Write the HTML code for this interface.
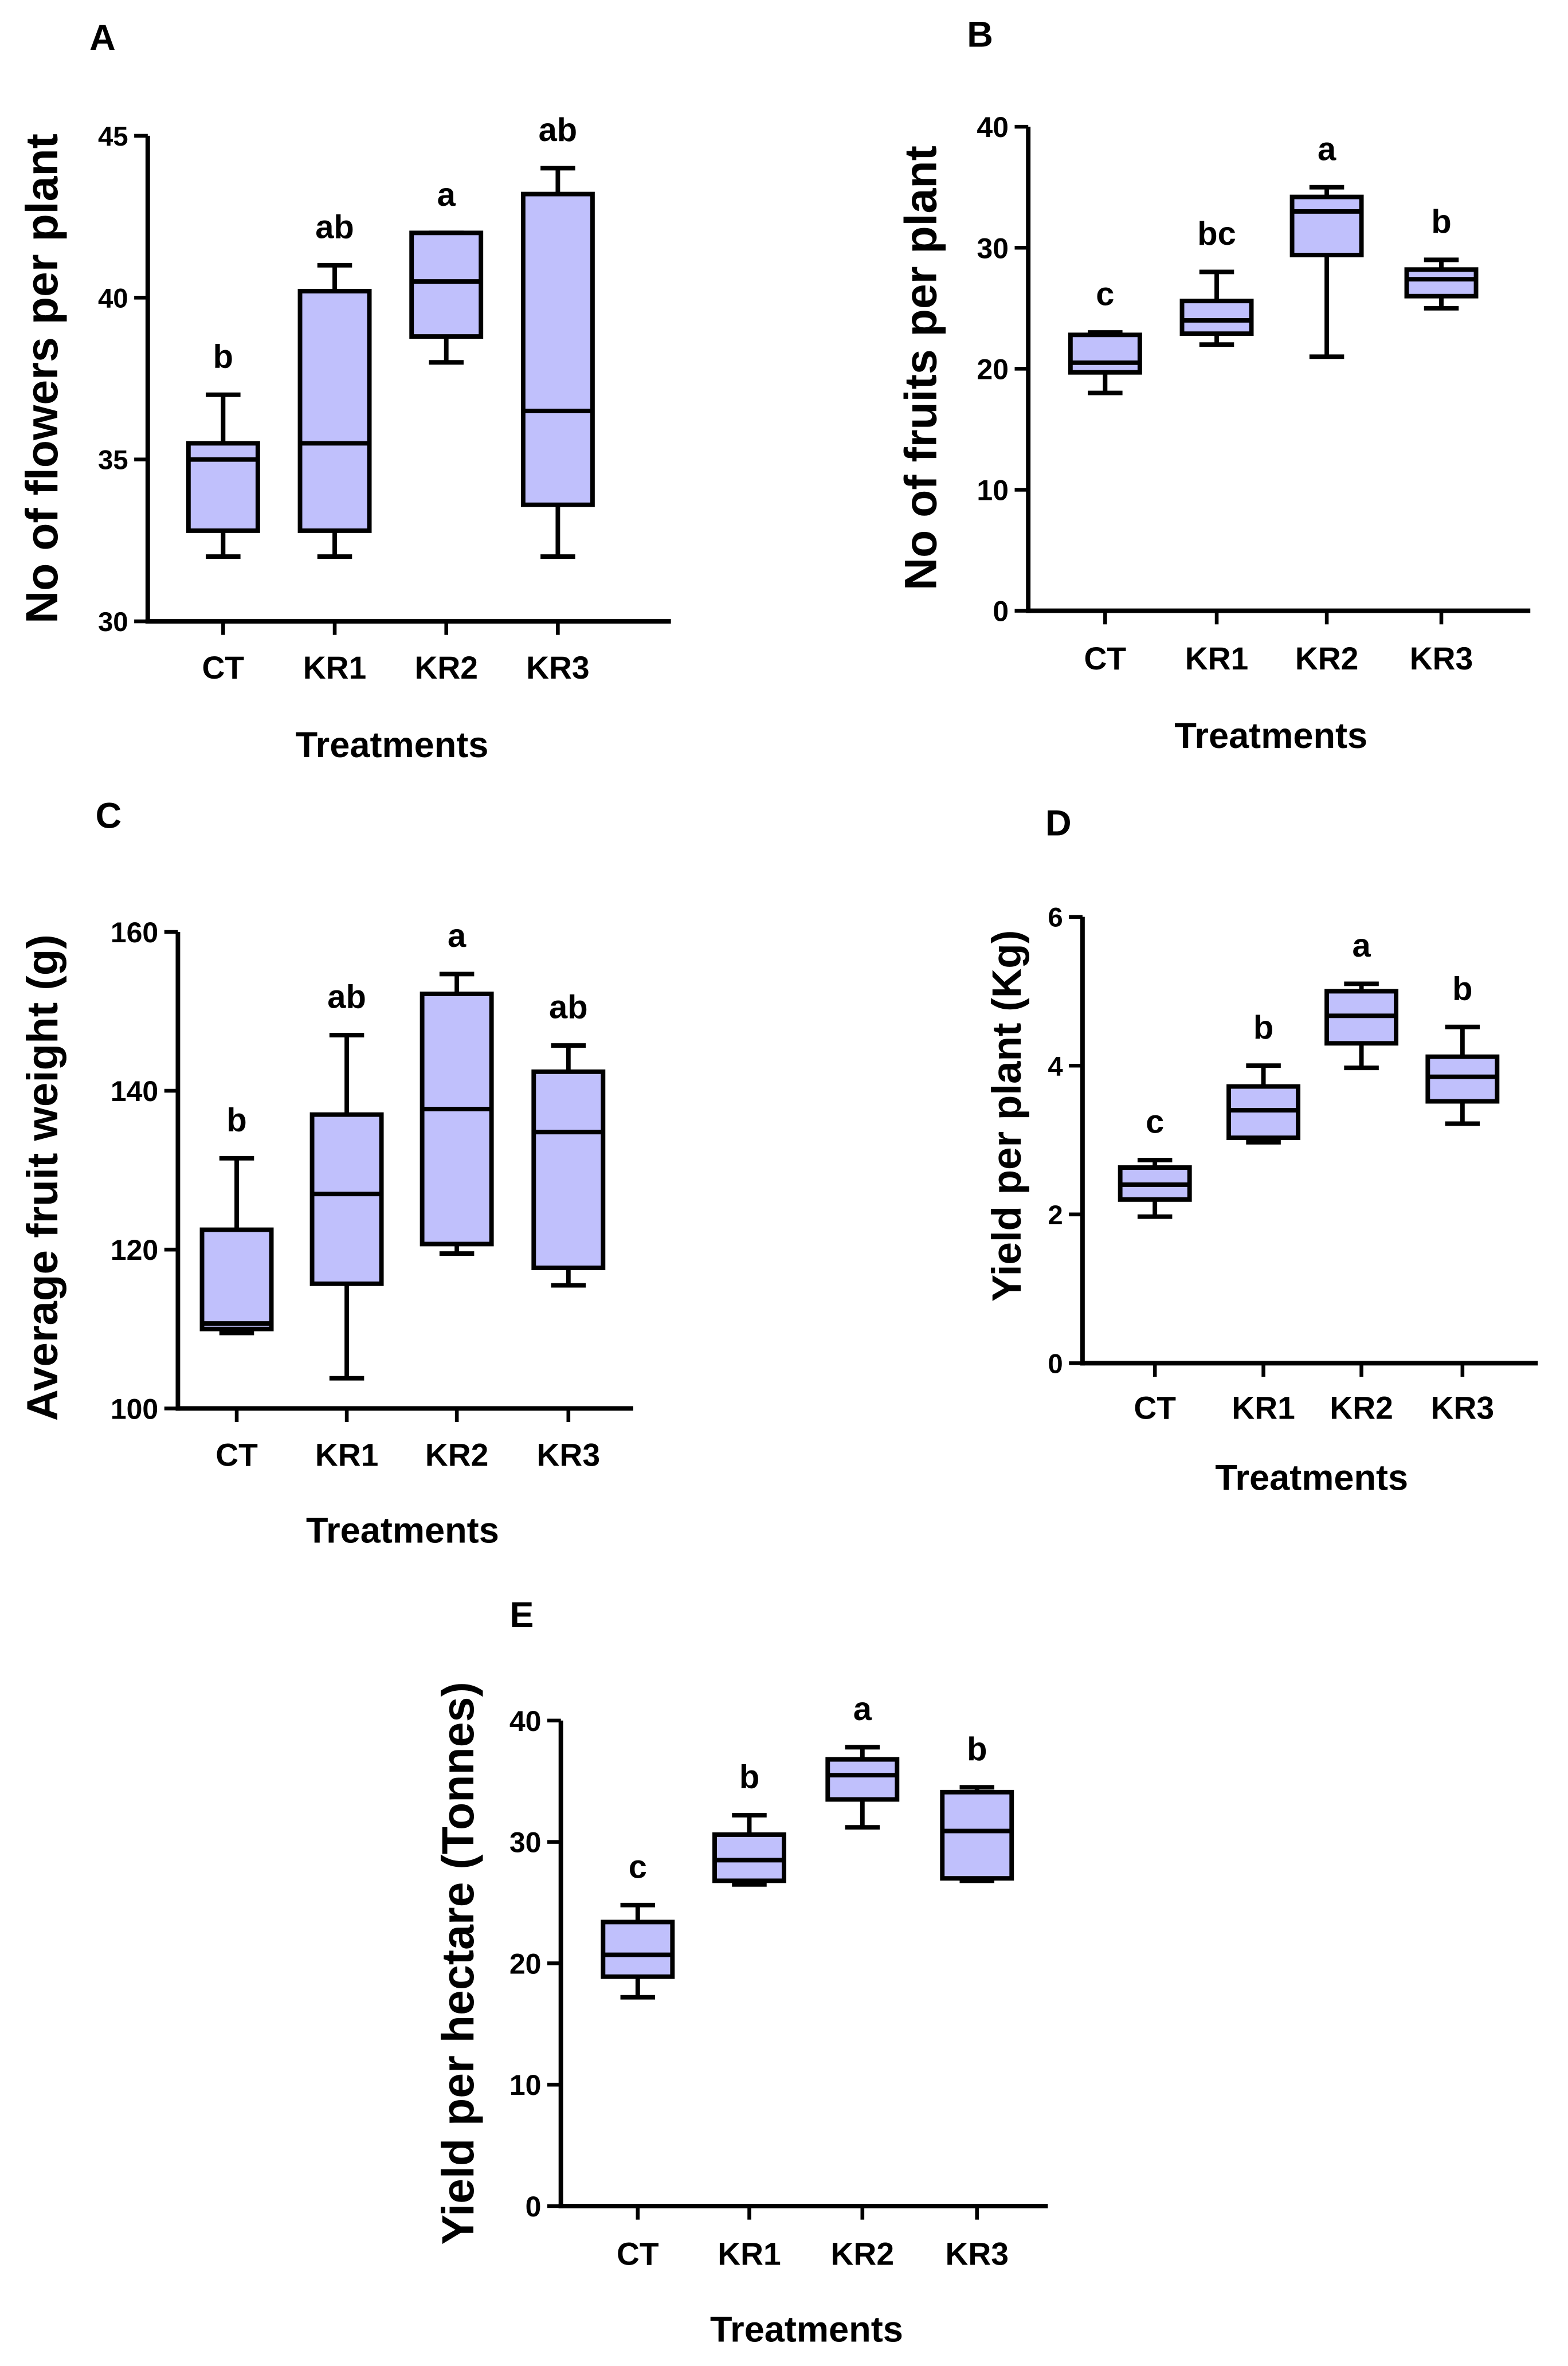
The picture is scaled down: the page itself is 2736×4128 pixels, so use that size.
<!DOCTYPE html>
<html><head><meta charset="utf-8"><style>
html,body{margin:0;padding:0;background:#fff;}
svg{display:block;font-family:"Liberation Sans",Arial,sans-serif;font-weight:bold;}
</style></head><body>
<svg id="fig" width="2736" height="4128" viewBox="0 0 1040 1569" xmlns="http://www.w3.org/2000/svg"></svg>
<script>
const categories = ["CT","KR1","KR2","KR3"];
// Panel A: flowers
const aMin=[32,32,38,32], aQ1=[32.8,32.8,38.8,33.6], aMed=[35,35.5,40.5,36.5], aQ3=[35.5,40.2,42,43.2], aMax=[37,41,42,44];
const aLetters=["b","ab","a","ab"], aTicks=[30,35,40,45];
// Panel B: fruits
const bMin=[18,22,21,25], bQ1=[19.7,22.9,29.4,26], bMed=[20.5,24,33,27.4], bQ3=[22.8,25.6,34.2,28.2], bMax=[23,28,35,29];
const bLetters=["c","bc","a","b"], bTicks=[0,10,20,30,40];
// Panel C: fruit weight
const cMin=[109.5,103.8,119.5,115.5], cQ1=[110,115.7,120.7,117.7], cMed=[110.7,127,137.7,134.8], cQ3=[122.5,137,152.2,142.4], cMax=[131.5,147,154.7,145.7];
const cLetters=["b","ab","a","ab"], cTicks=[100,120,140,160];
// Panel D: yield per plant
const dMin=[1.97,2.97,3.97,3.22], dQ1=[2.2,3.03,4.3,3.52], dMed=[2.4,3.4,4.67,3.85], dQ3=[2.63,3.72,5.0,4.12], dMax=[2.73,4.0,5.1,4.52];
const dLetters=["c","b","a","b"], dTicks=[0,2,4,6];
// Panel E: yield per hectare
const eMin=[17.2,26.5,31.2,26.8], eQ1=[18.9,26.8,33.5,27], eMed=[20.7,28.5,35.5,30.9], eQ3=[23.4,30.6,36.8,34.1], eMax=[24.8,32.2,37.8,34.5];
const eLetters=["c","b","a","b"], eTicks=[0,10,20,30,40];

const NS="http://www.w3.org/2000/svg";
const svg=document.getElementById('fig');
function mk(tag,attrs,parent){const e=document.createElementNS(NS,tag);for(const k in attrs)e.setAttribute(k,attrs[k]);(parent||svg).appendChild(e);return e;}
function txt(s,x,y,size,parent,anchor,rot){const t=mk('text',{x:x,y:y,'font-size':size,'text-anchor':anchor||'middle',fill:'#000'},parent);if(rot)t.setAttribute('transform','rotate(-90 '+x+' '+y+')');t.textContent=s;return t;}

function panel(p){
  const g=mk('g',{});
  
  
  const lo=p.ticks[0], hi=p.ticks[p.ticks.length-1];
  const Y=v=>p.y0+(v-lo)/(hi-lo)*(p.y1-p.y0);
  const L=t=>{const e=txt(t.s,t.x,t.y,t.size,g,t.a,t.r);return e;};
  L({s:p.id,x:p.lx,y:p.ly,size:24,name:'panel-letter'});
  const ya=mk('line',{x1:p.ax,y1:p.y1,x2:p.ax,y2:p.y0+1.5,stroke:'#000','stroke-width':3},g);
  
  const xa=mk('line',{x1:p.ax-1.5,y1:p.y0,x2:p.axEnd,y2:p.y0,stroke:'#000','stroke-width':3},g);
  
  p.ticks.forEach(v=>{
    const tk=mk('line',{x1:p.ax-9,y1:Y(v),x2:p.ax,y2:Y(v),stroke:'#000','stroke-width':2.5},g);
    
    L({s:String(v),x:p.ax-13,y:Y(v)+p.tf*0.36,size:p.tf,a:'end',name:'y-tick-label'});
  });
  categories.forEach((c,i)=>{
    const cx=p.cx[i], w=p.bw/2;
    const tk=mk('line',{x1:cx,y1:p.y0,x2:cx,y2:p.y0+9,stroke:'#000','stroke-width':2.5},g);
    
    L({s:c,x:cx,y:p.labY,size:21,name:'x-tick-label'});
    const bg=mk('g',{},g);
    
    const st={stroke:'#000','stroke-width':3};
    mk('line',Object.assign({x1:cx,y1:Y(p.max[i]),x2:cx,y2:Y(p.q3[i])},st),bg);
    mk('line',Object.assign({x1:cx,y1:Y(p.min[i]),x2:cx,y2:Y(p.q1[i])},st),bg);
    mk('line',Object.assign({x1:cx-w/2,y1:Y(p.max[i]),x2:cx+w/2,y2:Y(p.max[i])},st),bg);
    mk('line',Object.assign({x1:cx-w/2,y1:Y(p.min[i]),x2:cx+w/2,y2:Y(p.min[i])},st),bg);
    mk('rect',Object.assign({x:cx-w,y:Y(p.q3[i]),width:p.bw,height:Y(p.q1[i])-Y(p.q3[i]),fill:'#c0c0fc'},st),bg);
    mk('line',Object.assign({x1:cx-w,y1:Y(p.med[i]),x2:cx+w,y2:Y(p.med[i])},st),bg);
    L({s:p.letters[i],x:cx,y:Y(p.max[i])-p.letGap,size:22,name:'significance-letter'});
  });
  L({s:'Treatments',x:p.tx,y:p.ty,size:24,name:'x-axis-title'});
  L({s:p.title,x:p.yx,y:p.yy,size:p.yf,r:true,name:'y-axis-title'});
}

panel({id:'A',lx:68,ly:33,ax:98,axEnd:445,y0:412,y1:90,ticks:aTicks,tf:18,cx:[148,222,296,370],bw:46,labY:450,
  min:aMin,q1:aQ1,med:aMed,q3:aQ3,max:aMax,letters:aLetters,letGap:18,tx:260,ty:502,title:'No of flowers per plant',yx:38,yy:251,yf:30});
panel({id:'B',lx:650,ly:31,ax:682,axEnd:1015,y0:405,y1:84,ticks:bTicks,tf:19,cx:[733,807,880,956],bw:46,labY:444,
  min:bMin,q1:bQ1,med:bMed,q3:bQ3,max:bMax,letters:bLetters,letGap:18,tx:843,ty:496,title:'No of fruits per plant',yx:621,yy:244,yf:30});
panel({id:'C',lx:72,ly:549,ax:118,axEnd:420,y0:934,y1:618,ticks:cTicks,tf:19,cx:[157,230,303,377],bw:46,labY:972,
  min:cMin,q1:cQ1,med:cMed,q3:cQ3,max:cMax,letters:cLetters,letGap:18,tx:267,ty:1023,title:'Average fruit weight (g)',yx:38,yy:781,yf:29});
panel({id:'D',lx:702,ly:554,ax:718,axEnd:1020,y0:904,y1:608,ticks:dTicks,tf:18,cx:[766,838,903,970],bw:46,labY:941,
  min:dMin,q1:dQ1,med:dMed,q3:dQ3,max:dMax,letters:dLetters,letGap:18,tx:870,ty:988,title:'Yield per plant (Kg)',yx:677,yy:740,yf:27});
panel({id:'E',lx:346,ly:1079,ax:372,axEnd:695,y0:1463,y1:1141,ticks:eTicks,tf:19,cx:[423,497,572,648],bw:46,labY:1502,
  min:eMin,q1:eQ1,med:eMed,q3:eQ3,max:eMax,letters:eLetters,letGap:18,tx:535,ty:1553,title:'Yield per hectare (Tonnes)',yx:314,yy:1302,yf:30});
</script>
</body></html>
